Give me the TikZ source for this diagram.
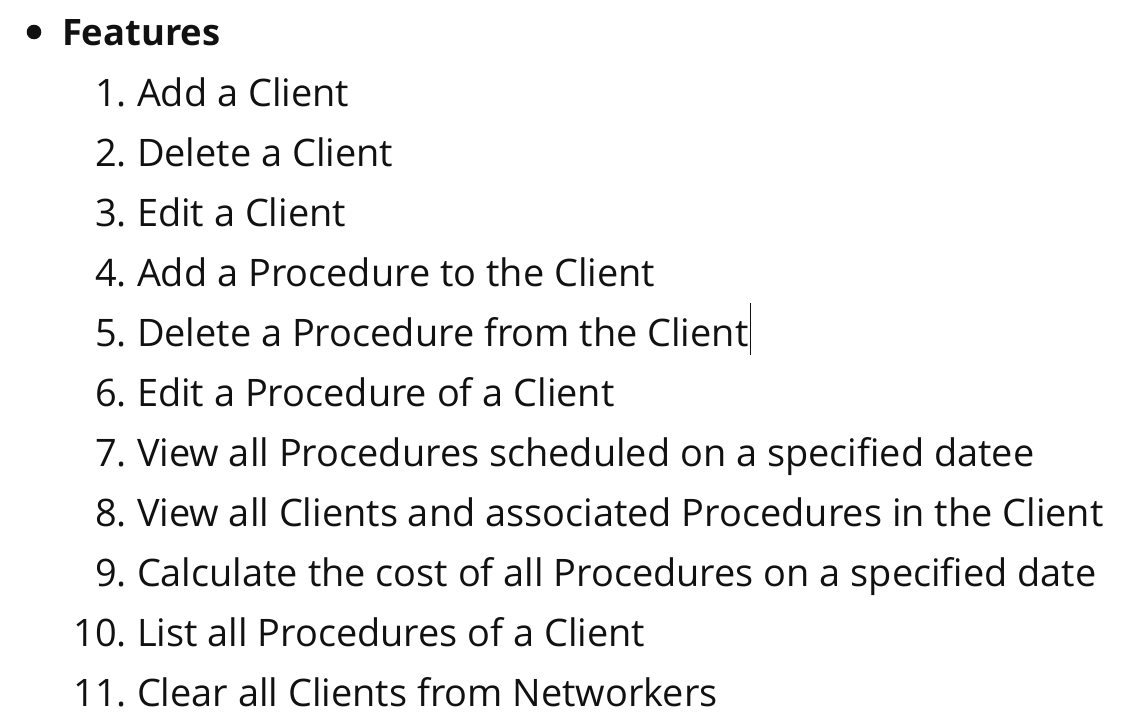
\documentclass[tikz,border=0pt]{standalone}
\usepackage{fontspec}
\setmainfont{Open Sans}
\begin{document}
\begin{tikzpicture}[x=1pt,y=-1pt,
  every node/.style={inner sep=0pt,outer sep=0pt,text=txt},
  item/.style={anchor=base west,font=\fontsize{37.9}{42}\selectfont},
  num/.style={anchor=base east,font=\fontsize{37.9}{42}\selectfont}]
\definecolor{txt}{HTML}{111111}
\useasboundingbox (0,0) rectangle (1146,720);
\fill[txt] (34,32) circle (7.3);
\node[anchor=base west,font=\fontsize{36.4}{40}\selectfont\bfseries] (feat) at (62,45) {Features};
\foreach \i/\t in {1/Add a Client,2/Delete a Client,3/Edit a Client,4/Add a Procedure to the Client,5/Delete a Procedure from the Client,6/Edit a Procedure of a Client,7/View all Procedures scheduled on a specified datee,8/View all Clients and associated Procedures in the Client,9/Calculate the cost of all Procedures on a specified date,10/List all Procedures of a Client,11/Clear all Clients from Networkers}{
  \node[num] (n\i) at (127,{106+60*(\i-1)}) {\i.};
  \node[item] (t\i) at (137,{106+60*(\i-1)}) {\t};
}
\coordinate (c1) at ([xshift=2pt,yshift=43pt]t5.base east);
\coordinate (c2) at ([xshift=2pt,yshift=-9pt]t5.base east);
\draw[txt,line width=1pt] (c1) -- (c2);
\end{tikzpicture}
\end{document}
